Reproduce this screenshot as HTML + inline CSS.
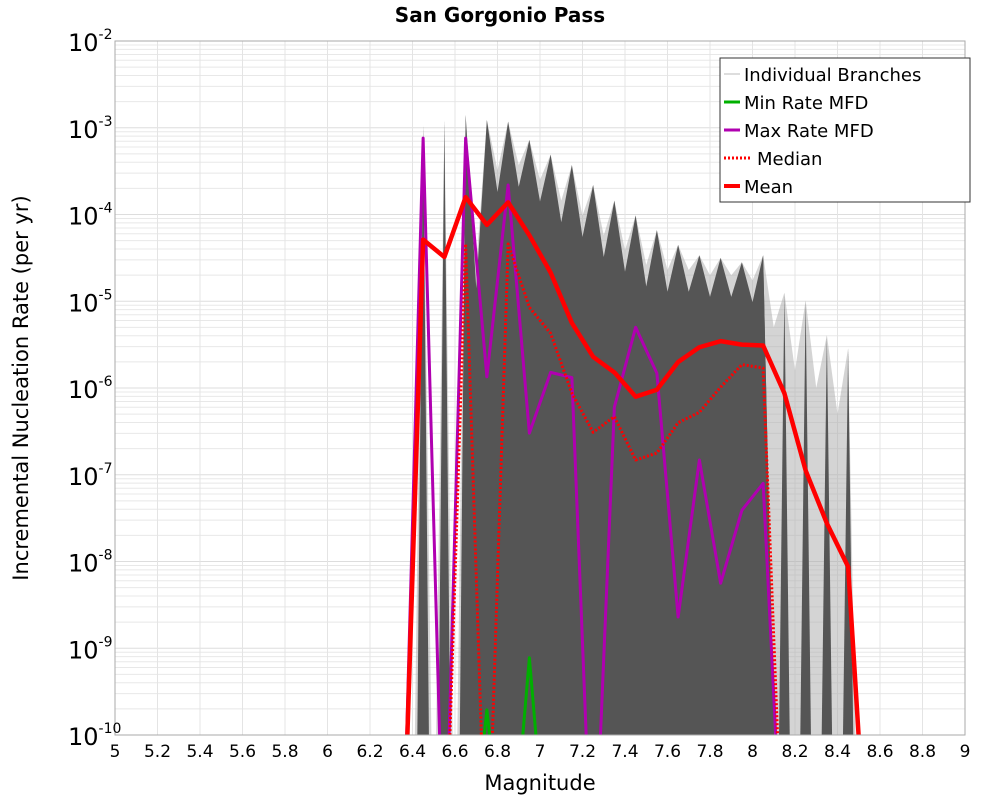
<!DOCTYPE html>
<html><head><meta charset="utf-8"><style>
html,body{margin:0;padding:0;background:#fff;width:1000px;height:800px;overflow:hidden}
svg{display:block}
</style></head><body>
<svg id="chart" width="1000" height="800" xmlns="http://www.w3.org/2000/svg" font-family="DejaVu Sans, Liberation Sans, sans-serif">
<defs><clipPath id="pc"><rect x="115" y="41" width="850" height="694"/></clipPath></defs>
<rect x="0" y="0" width="1000" height="800" fill="#fff"/>
<text x="500" y="22" text-anchor="middle" font-size="20" font-weight="bold">San Gorgonio Pass</text>
<g id="grid"></g>
<g id="marks" clip-path="url(#pc)"></g>
<rect x="115" y="41" width="850" height="694" fill="none" stroke="#aaa" stroke-width="1"/>
<g id="axes"></g>
<text x="540" y="790" text-anchor="middle" font-size="21">Magnitude</text>
<text transform="translate(28,388) rotate(-90)" text-anchor="middle" font-size="21">Incremental Nucleation Rate (per yr)</text>
<g>
<rect x="720" y="58" width="250" height="144" fill="#fff" stroke="#333" stroke-width="1"/>
<line x1="724" y1="74" x2="740" y2="74" stroke="#bbb" stroke-width="1"/>
<text x="744" y="81" font-size="18">Individual Branches</text>
<line x1="724" y1="102" x2="740" y2="102" stroke="#00b000" stroke-width="3"/>
<text x="744" y="109" font-size="18">Min Rate MFD</text>
<line x1="724" y1="130" x2="740" y2="130" stroke="#b000b0" stroke-width="3"/>
<text x="744" y="137" font-size="18">Max Rate MFD</text>
<line x1="724" y1="158" x2="752" y2="158" stroke="#f00" stroke-width="3" stroke-dasharray="2,2"/>
<text x="757" y="165" font-size="18">Median</text>
<line x1="724" y1="186" x2="740" y2="186" stroke="#f00" stroke-width="4"/>
<text x="744" y="193" font-size="18">Mean</text>
</g>
</svg>
<script>
const mags=[6.35,6.45,6.55,6.65,6.75,6.85,6.95,7.05,7.15,7.25,7.35,7.45,7.55,7.65,7.75,7.85,7.95,8.05,8.15,8.25,8.35,8.45,8.55];
const meanLog=[-12,-4.29,-4.49,-3.80,-4.12,-3.86,-4.24,-4.67,-5.25,-5.64,-5.82,-6.10,-6.02,-5.70,-5.53,-5.46,-5.50,-5.51,-6.06,-6.95,-7.56,-8.06,-12];
const medianLog=[-12,-12,-12,-4.34,-12,-4.34,-5.07,-5.37,-6.06,-6.51,-6.33,-6.83,-6.75,-6.40,-6.28,-5.99,-5.73,-5.77,-12,-12,-12,-12,-12];
const maxLog=[-12,-3.12,-12,-3.12,-5.87,-3.66,-6.52,-5.82,-5.88,-12,-6.22,-5.30,-5.83,-8.64,-6.83,-8.25,-7.41,-7.10,-12,-12,-12,-12,-12];
const minLog=[-12,-12,-12,-12,-9.71,-12,-9.11,-12,-12,-12,-12,-12,-12,-12,-12,-12,-12,-12,-12,-12,-12,-12,-12];
const branchTopLog=[-2.97,-2.91,-2.85,-2.91,-2.93,-3.14,-3.31,-3.43,-3.66,-3.84,-4.01,-4.18,-4.35,-4.47,-4.50,-4.55,-4.47,-4.90,-4.99,-5.39,-5.54];
const branchValleyLog=[-12,-12,-4.6,-3.49,-3.43,-3.60,-3.84,-4.01,-4.24,-4.41,-4.58,-4.64,-4.64,-4.70,-4.70,-4.76,-5.3,-5.8,-6.0,-6.3];
const xTicks=[5,5.2,5.4,5.6,5.8,6,6.2,6.4,6.6,6.8,7,7.2,7.4,7.6,7.8,8,8.2,8.4,8.6,8.8,9];
const yExps=[-2,-3,-4,-5,-6,-7,-8,-9,-10];
const NS='http://www.w3.org/2000/svg';
const X=m=>115+(m-5)*212.5;
const Y=l=>41+(-2-l)*86.75;
function mk(t,a,p){const e=document.createElementNS(NS,t);for(const k in a)e.setAttribute(k,a[k]);p.appendChild(e);return e;}
const grid=document.getElementById('grid'),axes=document.getElementById('axes'),marks=document.getElementById('marks');
for(let d=-10;d<-2;d++){for(let k=2;k<10;k++){const y=Y(d+Math.log10(k));const l=mk('line',{x1:115,x2:965,y1:y,y2:y,stroke:'#e8e8e8','stroke-width':1},grid);

}}
yExps.forEach(e=>{const y=Y(e);const l=mk('line',{x1:115,x2:965,y1:y,y2:y,stroke:'#ddd','stroke-width':1},grid);


const t=mk('text',{x:68,y:y+10,'font-size':24},axes);


t.innerHTML='10<tspan dy="-12" font-size="14">'+e+'</tspan>';});
xTicks.forEach(m=>{const x=X(m);const l=mk('line',{x1:x,x2:x,y1:41,y2:735,stroke:'#e4e4e4','stroke-width':1},grid);


const t=mk('text',{x:x,y:757,'font-size':17,'text-anchor':'middle'},axes);


t.textContent=String(m);});
let pts=[[X(6.40),Y(-12)]];
branchTopLog.forEach((v,i)=>{const m=6.45+i*0.1;pts.push([X(m),Y(v)]);if(i<branchValleyLog.length)pts.push([X(m+0.05),Y(branchValleyLog[i])]);});
pts.push([X(8.50),Y(-12)]);
const light=mk('polygon',{points:pts.map(p=>p.join(',')).join(' '),fill:'#aaa',opacity:0.5},marks);


branchTopLog.forEach((v,i)=>{const m=6.45+i*0.1;const w=i<3?0.035:(i>16?0.035:0.07);
const p=mk('polygon',{points:[[X(m-w),Y(-12)],[X(m),Y(v)],[X(m+w),Y(-12)]].map(p=>p.join(',')).join(' '),fill:'#555'},marks);

});
const core=[[X(6.62),Y(-12)]];
branchTopLog.forEach((v,i)=>{if(i<2||i>16)return;const m=6.45+i*0.1;core.push([X(m),Y(v)]);if(i<16)core.push([X(m+0.05),Y(branchValleyLog[i]-0.25)]);});
core.push([X(8.12),Y(-12)]);
const cp=mk('polygon',{points:core.map(p=>p.join(',')).join(' '),fill:'#555'},marks);


function line(arr,name,color,w,dash){const d=arr.map((v,i)=>(i?'L':'M')+X(mags[i])+','+Y(v)).join(' ');
const p=mk('path',{d:d,fill:'none',stroke:color,'stroke-width':w,'stroke-linejoin':'round'},marks);if(dash)p.setAttribute('stroke-dasharray',dash);

}
line(minLog,'min-rate-line','#00b000',3);
line(maxLog,'max-rate-line','#b000b0',3);
line(medianLog,'median-line','#f00',3,'2,2');
line(meanLog,'mean-line','#f00',4.5);
</script>
</body></html>
